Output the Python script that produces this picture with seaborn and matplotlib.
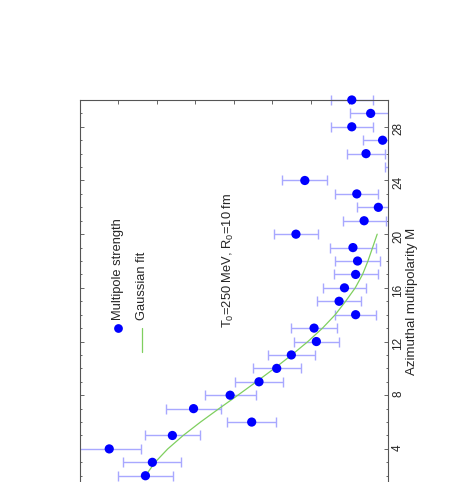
import seaborn as sns
import matplotlib.pyplot as plt
from matplotlib.patches import Rectangle
from matplotlib.ticker import MultipleLocator, NullFormatter

# Multipole strength vs azimuthal multipolarity (plot is drawn rotated by 90 deg)
multipolarity = list(range(2, 31))
strength = [6.30, 6.12, 7.24, 5.60, 3.54, 5.05, 4.10, 3.35, 2.89, 2.51,
            1.86, 1.92, 0.84, 1.27, 1.13, 0.84, 0.79, 0.91, 2.39, 0.62,
            0.25, 0.81, 2.16, -0.47, 0.57, 0.14, 0.94, 0.45, 0.94]
strength_err = [0.72, 0.75, 0.82, 0.72, 0.64, 0.71, 0.66, 0.63, 0.62, 0.61,
                0.59, 0.59, 0.53, 0.57, 0.55, 0.57, 0.58, 0.59, 0.57, 0.56,
                0.56, 0.56, 0.58, 0.55, 0.50, 0.52, 0.55, 0.53, 0.55]
m_ticks = [4, 8, 12, 16, 20, 24, 28]

# Gaussian fit curve
fit_m = list(range(2, 21))
fit_strength = [6.30, 6.05, 5.72, 5.32, 4.87, 4.39, 3.90, 3.42, 2.95, 2.50,
                2.08, 1.70, 1.37, 1.10, 0.85, 0.66, 0.52, 0.40, 0.28]

sns.set_style("ticks")
plt.rcParams['font.family'] = ['Liberation Sans', 'DejaVu Sans']
plt.rcParams['mathtext.default'] = 'regular'

fig = plt.figure(figsize=(4.68, 4.82), dpi=100)
ax = fig.add_axes([0.1709, -0.0427, 0.6581, 0.8353])

#error bars
eb = ax.errorbar(strength, multipolarity, xerr=strength_err, fmt='none',
                 ecolor='#a8a8ff', elinewidth=1.0, capsize=3.5, capthick=1.0)

#fit curve
sns.lineplot(x=fit_strength, y=fit_m, orient='y', sort=False, color='#7fcf5f',
             lw=0.9, ax=ax)

#data points
sns.scatterplot(x=strength, y=multipolarity, color='#0000ff', s=44,
                edgecolor='none', ax=ax, zorder=3)

ax.set_xlim(8, 0)
ax.set_ylim(0, 30)

# let marks spill over the top edge but stay clipped left/right
clip_rect = Rectangle((0, -0.1), 1, 1.15, transform=ax.transAxes)
for art in ax.collections + ax.lines:
    art.set_clip_path(clip_rect)

ax.xaxis.set_major_locator(MultipleLocator(1))
ax.xaxis.set_major_formatter(NullFormatter())
ax.set_yticks(m_ticks)
ax.yaxis.set_minor_locator(MultipleLocator(1))
ax.tick_params(axis='x', which='both', direction='in', top=True, bottom=True,
               labelbottom=False, length=3, width=0.7, color='#666666')
ax.tick_params(axis='y', which='major', direction='in', left=True, right=True,
               labelleft=False, labelright=True, labelrotation=90, length=3,
               width=0.7, color='#666666', labelsize=8.5, pad=3)
ax.tick_params(axis='y', which='minor', direction='in', left=True, right=True,
               length=1.6, width=0.7, color='#666666')
for sp in ax.spines.values():
    sp.set_color('#555555')
    sp.set_linewidth(0.8)

ax.set_xlabel('')
ax.yaxis.set_label_position('right')
ax.set_ylabel('Azimuthal multipolarity M', fontsize=9.5, labelpad=1)

#legend, rotated by hand
ax.plot([0.1244], [0.4337], 'o', color='#0000ff', ms=6.3, mec='none',
        transform=ax.transAxes)
ax.text(0.1244, 0.4536, 'Multipole strength', rotation=90, fontsize=9.3,
        ha='center', va='bottom', transform=ax.transAxes)
ax.plot([0.2023, 0.2023], [0.4337, 0.3741], color='#7fcf5f', lw=0.9,
        transform=ax.transAxes)
ax.text(0.2023, 0.4536, 'Gaussian fit', rotation=90, fontsize=9.3,
        ha='center', va='bottom', transform=ax.transAxes)

ax.text(0.4805, 0.4337, 'T$_0$=250 MeV, R$_0$=10 fm', rotation=90, fontsize=9.3,
        ha='center', va='bottom', transform=ax.transAxes)

fig.savefig('out.png', dpi=100)
